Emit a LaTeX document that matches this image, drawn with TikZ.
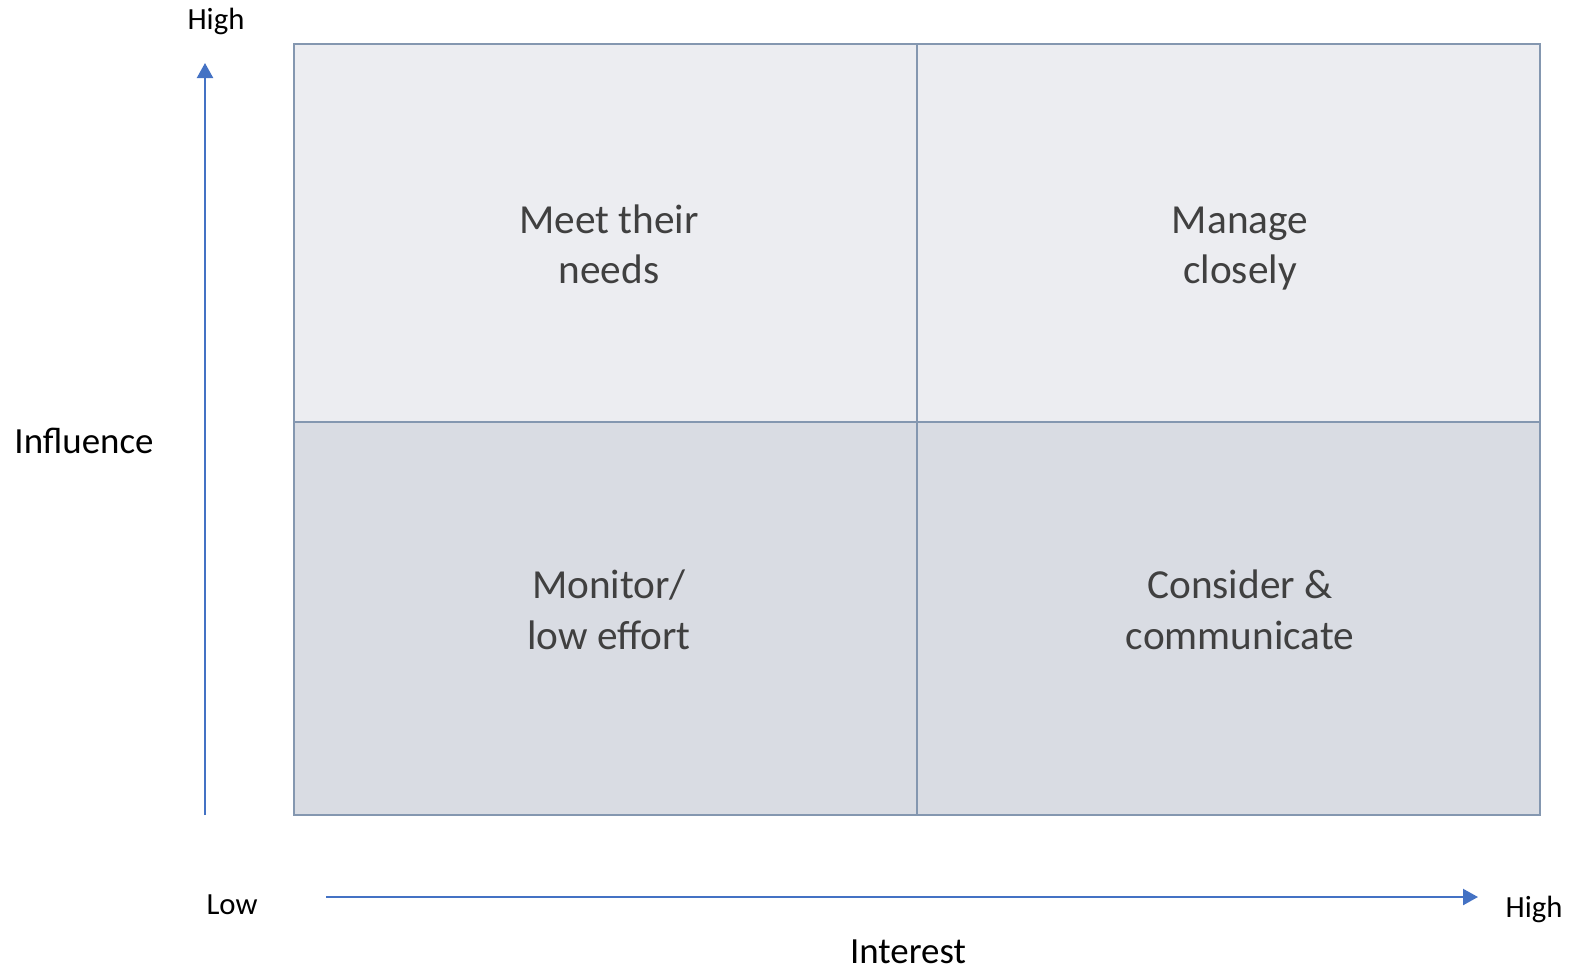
\documentclass[tikz,border=0pt]{standalone}
\usepackage{fontspec}
\setmainfont{Carlito}
\usetikzlibrary{arrows.meta}
\definecolor{axisblue}{HTML}{4472C4}
\definecolor{gridgray}{HTML}{8497B0}
\definecolor{topfill}{HTML}{ECEDF1}
\definecolor{bottomfill}{HTML}{D9DCE3}
\definecolor{quadtext}{HTML}{404040}
\tikzset{
  gridline/.style = {gridgray, line width=1.2pt},
  axis/.style = {axisblue, line width=1.3pt, -{Triangle[length=0.3cm, width=0.32cm]}},
  quadlabel/.style = {anchor=base, inner sep=0pt, text=quadtext, font=\fontsize{23.5}{28.5}\selectfont},
  axislabel/.style = {anchor=base, inner sep=0pt, font=\fontsize{17.5}{21}\selectfont},
  axistitle/.style = {anchor=base, inner sep=0pt, font=\fontsize{21}{25}\selectfont}
}
\begin{document}
\begin{tikzpicture}[x=0.02cm, y=-0.02cm]
\useasboundingbox (0,0) rectangle (1585,975);
\fill [topfill] (294,44) rectangle (1540,422);
\fill [bottomfill] (294,422) rectangle (1540,815);
\draw [gridline] (294,44) rectangle (1540,815);
\draw [gridline] (917,44) -- (917,815);
\draw [gridline] (294,422) -- (1540,422);
% quadrant texts, one node per line
\node [quadlabel] (meet) at (609,233) {Meet their};
\node [quadlabel] (meet2) at (609,283) {needs};
\node [quadlabel] (manage) at (1240,233) {Manage};
\node [quadlabel] (manage2) at (1240,283) {closely};
\node [quadlabel] (monitor) at (609,598) {Monitor/};
\node [quadlabel] (monitor2) at (609,649) {low effort};
\node [quadlabel] (consider) at (1240,598) {Consider \&};
\node [quadlabel] (consider2) at (1240,649) {communicate};
% axes
\coordinate (vbase) at (205,815);
\coordinate (vtip) at (205,63);
\draw [axis] (vbase) -- (vtip);
\coordinate (hbase) at (326,897);
\coordinate (htip) at (1478,897);
\draw [axis] (hbase) -- (htip);
\node [axislabel] (vhigh) at (216,29) {High};
\node [axistitle] (influence) at (84,453) {Influence};
\node [axislabel] (low) at (232,914) {Low};
\node [axislabel] (hhigh) at (1534,917) {High};
\node [axistitle] (interest) at (908,963) {Interest};
\end{tikzpicture}
\end{document}
